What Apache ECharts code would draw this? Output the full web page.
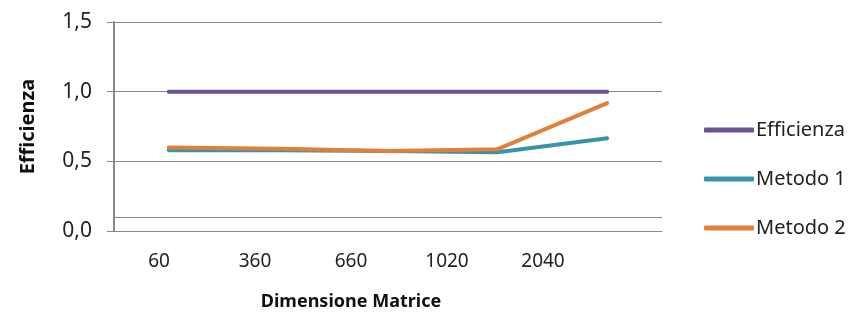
<!DOCTYPE html>
<html><head><meta charset="utf-8">
<script src="https://cdn.jsdelivr.net/npm/echarts@6/dist/echarts.min.js"></script>
<style>html,body{margin:0;padding:0;background:#fff}#c{width:861px;height:321px}</style>
</head><body><div id="c"></div>
<script>
const categories = ['60', '360', '660', '1020', '2040'];
const efficienza = [1.0, 1.0, 1.0, 1.0, 1.0];
const metodo1 = [0.58, 0.58, 0.575, 0.565, 0.665];
const metodo2 = [0.60, 0.59, 0.575, 0.587, 0.918];
const extraLine = 0.1;
const yTicks = { min: 0, max: 1.5, interval: 0.5 };

const chart = echarts.init(document.getElementById('c'), null, { renderer: 'canvas' });
const font = 'Noto Sans, Liberation Sans, sans-serif';
const lineSeries = (name, data, color) => ({
  name, type: 'line', data, xAxisIndex: 0, yAxisIndex: 0,
  symbol: 'none', lineStyle: { width: 4, color, cap: 'round' }, itemStyle: { color }
});
chart.setOption({
  animation: false,
  grid: [
    { left: 114, right: 199, top: 22, bottom: 90 },
    { left: 111, width: 480, top: 22, bottom: 90 }
  ],
  xAxis: [
    { type: 'category', data: categories, gridIndex: 0, boundaryGap: true,
      axisLine: { show: true, lineStyle: { color: '#888', width: 1 } },
      axisTick: { show: false }, axisLabel: { show: false } },
    { type: 'category', data: categories, gridIndex: 1, boundaryGap: true,
      axisLine: { show: false }, axisTick: { show: false },
      axisLabel: { show: true, margin: 21, fontSize: 19, color: '#222', fontFamily: font },
      name: 'Dimensione Matrice', nameLocation: 'middle', nameGap: 62,
      nameTextStyle: { fontSize: 18, fontWeight: 'bold', color: '#111', fontFamily: font } }
  ],
  yAxis: [
    { type: 'value', gridIndex: 0, min: yTicks.min, max: yTicks.max, interval: yTicks.interval,
      axisLine: { show: true, lineStyle: { color: '#888', width: 2 } },
      axisTick: { show: true, length: 7, lineStyle: { color: '#888' } },
      splitLine: { show: true, lineStyle: { color: '#888', width: 1 } },
      axisLabel: { fontSize: 21, color: '#222', margin: 22, fontFamily: font,
        formatter: v => v.toFixed(1).replace('.', ',') },
      name: 'Efficienza', nameLocation: 'middle', nameGap: 76, nameRotate: 90,
      nameTextStyle: { fontSize: 20, fontWeight: 'bold', color: '#111', fontFamily: font } },
    { type: 'value', gridIndex: 1, show: false, min: 0, max: 1.5 }
  ],
  legend: {
    orient: 'vertical', left: 699, top: 115, itemGap: 29,
    itemWidth: 50, itemHeight: 5, icon: 'roundRect',
    textStyle: { fontSize: 20, color: '#222', fontFamily: font, padding: [0, 0, 0, -3] },
    data: ['Efficienza', 'Metodo 1', 'Metodo 2']
  },
  series: [
    Object.assign(lineSeries('Efficienza', efficienza, '#6b5393'), {
      markLine: { silent: true, symbol: 'none', label: { show: false },
        lineStyle: { color: '#888', width: 1, type: 'solid' },
        data: [{ yAxis: extraLine }] }
    }),
    lineSeries('Metodo 1', metodo1, '#3a93ad'),
    lineSeries('Metodo 2', metodo2, '#e0803a')
  ]
});
</script></body></html>
